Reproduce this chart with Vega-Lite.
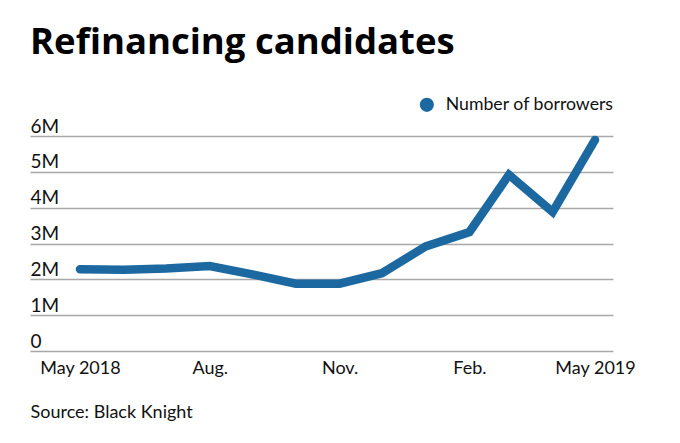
{
  "$schema": "https://vega.github.io/schema/vega-lite/v6.json",
  "width": 583,
  "height": 215,
  "autosize": {"type": "none"},
  "padding": {"left": 30, "top": 136, "right": 67, "bottom": 92},
  "background": "white",
  "title": {
    "text": "Refinancing candidates",
    "anchor": "start",
    "frame": "group",
    "font": "Open Sans",
    "fontSize": 36.5,
    "fontWeight": "bold",
    "color": "#000000",
    "baseline": "alphabetic",
    "offset": 6,
    "dx": 0
  },
  "data": {
    "values": [
      {"date": "2018-05-01", "borrowers": 2280000, "series": "Number of borrowers"},
      {"date": "2018-06-01", "borrowers": 2270000, "series": "Number of borrowers"},
      {"date": "2018-07-01", "borrowers": 2300000, "series": "Number of borrowers"},
      {"date": "2018-08-01", "borrowers": 2370000, "series": "Number of borrowers"},
      {"date": "2018-09-01", "borrowers": 2130000, "series": "Number of borrowers"},
      {"date": "2018-10-01", "borrowers": 1880000, "series": "Number of borrowers"},
      {"date": "2018-11-01", "borrowers": 1880000, "series": "Number of borrowers"},
      {"date": "2018-12-01", "borrowers": 2170000, "series": "Number of borrowers"},
      {"date": "2019-01-01", "borrowers": 2920000, "series": "Number of borrowers"},
      {"date": "2019-02-01", "borrowers": 3320000, "series": "Number of borrowers"},
      {"date": "2019-03-01", "borrowers": 4920000, "series": "Number of borrowers"},
      {"date": "2019-04-01", "borrowers": 3880000, "series": "Number of borrowers"},
      {"date": "2019-05-01", "borrowers": 5890000, "series": "Number of borrowers"}
    ]
  },
  "mark": {"type": "line", "strokeWidth": 8.5, "strokeCap": "round", "strokeJoin": "miter", "clip": false},
  "encoding": {
    "x": {
      "field": "date",
      "type": "temporal",
      "scale": {
        "type": "utc",
        "domain": [
          {"year": 2018, "month": 3, "date": 26, "hours": 14, "utc": true},
          {"year": 2019, "month": 5, "date": 13, "hours": 18, "utc": true}
        ]
      },
      "axis": {
        "values": [
          {"year": 2018, "month": 5, "date": 1, "utc": true},
          {"year": 2018, "month": 8, "date": 1, "utc": true},
          {"year": 2018, "month": 11, "date": 1, "utc": true},
          {"year": 2019, "month": 2, "date": 1, "utc": true},
          {"year": 2019, "month": 5, "date": 1, "utc": true}
        ],
        "labelExpr": "utcmonth(datum.value) == 4 ? 'May ' + utcyear(datum.value) : utcFormat(datum.value, '%b') + '.'",
        "grid": false,
        "domain": false,
        "ticks": false,
        "tickSize": 0,
        "labelPadding": 22,
        "labelBaseline": "alphabetic",
        "labelAlign": "center",
        "labelFont": "Lato",
        "labelFontSize": 18,
        "labelColor": "#111111",
        "labelFlush": false,
        "labelOverlap": false,
        "title": "Source: Black Knight",
        "titleFont": "Lato",
        "titleFontSize": 18,
        "titleFontWeight": "normal",
        "titleColor": "#111111",
        "titleAnchor": "start",
        "titleAlign": "left",
        "titleBaseline": "alphabetic",
        "titleX": 0,
        "titleY": 66
      }
    },
    "y": {
      "field": "borrowers",
      "type": "quantitative",
      "scale": {"domain": [0, 6000000], "nice": false, "zero": true},
      "axis": {
        "values": [0, 1000000, 2000000, 3000000, 4000000, 5000000, 6000000],
        "labelExpr": "datum.value == 0 ? '0' : (datum.value / 1000000) + 'M'",
        "grid": true,
        "gridColor": "#a8a8a8",
        "gridWidth": 1.5,
        "domain": false,
        "ticks": false,
        "tickSize": 0,
        "labelPadding": 0,
        "labelAlign": "left",
        "labelBaseline": "alphabetic",
        "labelOffset": -4,
        "labelFont": "Lato",
        "labelFontSize": 19,
        "labelColor": "#111111",
        "title": null
      }
    },
    "color": {
      "field": "series",
      "type": "nominal",
      "scale": {"range": ["#1c68a0"]},
      "legend": {
        "title": null,
        "orient": "none",
        "legendX": 388,
        "legendY": -40,
        "symbolType": "circle",
        "symbolSize": 200,
        "symbolFillColor": "#1c68a0",
        "symbolStrokeWidth": 0,
        "labelFont": "Lato",
        "labelFontSize": 17.7,
        "labelColor": "#111111",
        "labelOffset": 10,
        "labelLimit": 400,
        "padding": 0
      }
    }
  },
  "config": {
    "view": {"stroke": null}
  }
}
